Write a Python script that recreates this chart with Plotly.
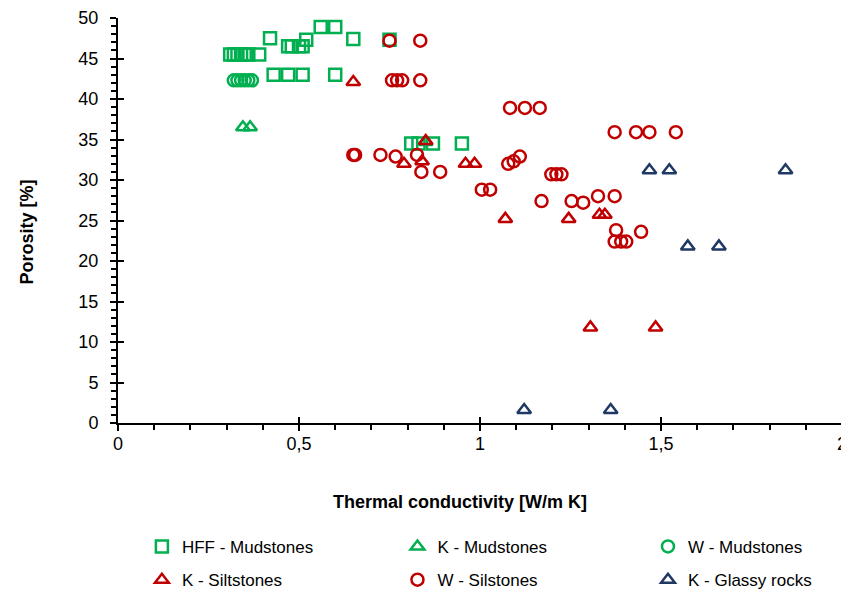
import plotly.graph_objects as go

# ---- data ----
hff_mud_x = [0.31, 0.32, 0.33, 0.34, 0.35, 0.36, 0.39, 0.42, 0.47, 0.48, 0.50, 0.51, 0.52,
             0.56, 0.60, 0.65, 0.75, 0.43, 0.47, 0.51, 0.60, 0.81, 0.83, 0.87, 0.95]
hff_mud_y = [45.5, 45.5, 45.5, 45.5, 45.5, 45.5, 45.5, 47.5, 46.5, 46.5, 46.5, 46.5, 47.3,
             48.9, 48.9, 47.4, 47.3, 43.0, 43.0, 43.0, 43.0, 34.5, 34.5, 34.5, 34.5]

k_mud_x = [0.345, 0.365, 0.85]
k_mud_y = [36.5, 36.5, 34.7]

w_mud_x = [0.32, 0.33, 0.34, 0.35, 0.36, 0.37]
w_mud_y = [42.3, 42.3, 42.3, 42.3, 42.3, 42.3]

k_silt_x = [0.65, 0.85, 0.79, 0.84, 0.96, 0.985, 1.07, 1.245, 1.33, 1.345, 1.305, 1.485]
k_silt_y = [42.1, 34.8, 32.0, 32.3, 32.0, 32.0, 25.2, 25.2, 25.7, 25.7, 11.8, 11.8]

w_silt_x = [0.75, 0.835, 0.757, 0.771, 0.785, 0.835, 0.65, 0.655, 0.725, 0.767, 0.826, 0.838, 0.89,
            1.078, 1.093, 1.11, 1.005, 1.028, 1.083, 1.124, 1.165, 1.372, 1.431, 1.468, 1.541,
            1.197, 1.211, 1.225, 1.17, 1.253, 1.285, 1.326, 1.372, 1.376, 1.445, 1.372, 1.39, 1.404]
w_silt_y = [47.2, 47.2, 42.3, 42.3, 42.3, 42.3, 33.1, 33.1, 33.1, 32.9, 33.1, 31.0, 31.0,
            32.0, 32.3, 32.9, 28.8, 28.8, 38.9, 38.9, 38.9, 35.9, 35.9, 35.9, 35.9,
            30.7, 30.7, 30.7, 27.4, 27.4, 27.2, 28.0, 28.0, 23.8, 23.6, 22.4, 22.4, 22.4]

k_glassy_x = [1.468, 1.523, 1.844, 1.574, 1.66, 1.122, 1.361]
k_glassy_y = [31.2, 31.2, 31.2, 21.8, 21.8, 1.6, 1.6]

x_tick_vals = [0, 0.5, 1, 1.5, 2]
y_tick_vals = [0, 5, 10, 15, 20, 25, 30, 35, 40, 45, 50]

x_title = "Thermal conductivity [W/m K]"
y_title = "Porosity [%]"

# ---- styles ----
GREEN = "#00B050"
RED = "#C00000"
NAVY = "#1F3864"
FONT = "Liberation Sans, Arial, sans-serif"

series = [
    ("HFF - Mudstones", hff_mud_x, hff_mud_y, "square-open", GREEN),
    ("K - Mudstones", k_mud_x, k_mud_y, "triangle-up-open", GREEN),
    ("W - Mudstones", w_mud_x, w_mud_y, "circle-open", GREEN),
    ("K - Siltstones", k_silt_x, k_silt_y, "triangle-up-open", RED),
    ("W - Silstones", w_silt_x, w_silt_y, "circle-open", RED),
    ("K - Glassy rocks", k_glassy_x, k_glassy_y, "triangle-up-open", NAVY),
]
# legend slot for each series: (paper x of legend box, paper y of row centre)
legend_cols = [0.033, 0.386, 0.732]
legend_rows = [-0.306, -0.388]

fig = go.Figure()
legend_layout = {}
for i, (name, xs, ys, sym, col) in enumerate(series):
    key = "legend" if i == 0 else f"legend{i + 1}"
    fig.add_trace(go.Scatter(
        x=xs, y=ys, mode="markers", name=name, legend=key, showlegend=True,
        marker=dict(symbol=sym, size=12, color=col, line=dict(color=col, width=2.5)),
    ))
    legend_layout[key] = dict(
        orientation="h", x=legend_cols[i % 3], xanchor="left",
        y=legend_rows[i // 3], yanchor="middle", bgcolor="rgba(0,0,0,0)",
        font=dict(family=FONT, size=17, color="black"))

axis_common = dict(showgrid=False, zeroline=False, showline=True, linecolor="black",
                   linewidth=2, ticks="outside", tickcolor="black", tickwidth=2, ticklen=6,
                   ticklabeloverflow="allow",
                   tickfont=dict(family=FONT, size=18, color="black"))

# the page body adds an 8px margin, so the figure is shrunk and its margins shifted
# by 8px to keep the plot area where the reference has it
fig.update_layout(
    width=841, height=585, autosize=False, showlegend=True,
    margin=dict(l=110, r=7, t=10, b=170, autoexpand=False),
    plot_bgcolor="white", paper_bgcolor="white",
    separators=", ",
    font=dict(family=FONT, size=17, color="black"),
    xaxis=dict(range=[0, 2], tickvals=x_tick_vals, ticklabelstandoff=-3,
               minor=dict(dtick=0.1, ticks="outside", ticklen=5, tickwidth=1.5, tickcolor="black"),
               **axis_common),
    yaxis=dict(range=[0, 50], tickvals=y_tick_vals, ticklabelstandoff=8,
               minor=dict(dtick=1, ticks="outside", ticklen=5, tickwidth=1.5, tickcolor="black"),
               **axis_common),
    xaxis2=dict(range=[0, 2], overlaying="x", anchor="y", side="bottom", tickvals=x_tick_vals,
                ticks="inside", ticklen=6, tickwidth=2, tickcolor="black", showticklabels=False,
                showline=False, showgrid=False, zeroline=False),
    yaxis2=dict(range=[0, 50], overlaying="y", anchor="x", side="left", tickvals=y_tick_vals,
                ticks="inside", ticklen=6, tickwidth=2, tickcolor="black", showticklabels=False,
                showline=False, showgrid=False, zeroline=False),
    annotations=[
        dict(text="<b>" + x_title + "</b>", xref="paper", yref="paper", x=0.472, y=-0.195,
             xanchor="center", yanchor="middle", showarrow=False,
             font=dict(family=FONT, size=18, color="black")),
        dict(text="<b>" + y_title + "</b>", xref="paper", yref="paper", x=-0.126, y=0.472,
             xanchor="center", yanchor="middle", showarrow=False, textangle=-90,
             font=dict(family=FONT, size=18, color="black")),
    ],
    **legend_layout,
)

# empty helper trace so the overlay axes (inner half of the crossing ticks) are drawn
fig.add_trace(go.Scatter(x=[], y=[], xaxis="x2", yaxis="y2", showlegend=False, hoverinfo="skip"))

fig.write_html("out.html")
